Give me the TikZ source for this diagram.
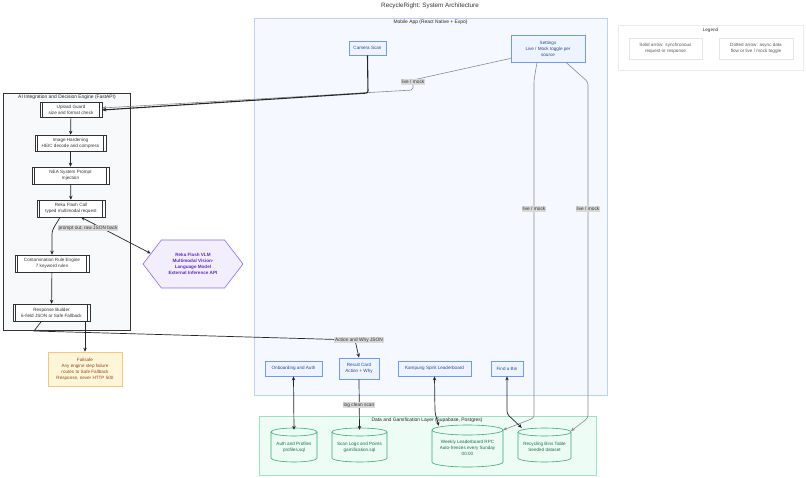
\documentclass[tikz,border=0pt]{standalone}
\usepackage{fontspec}
\setmainfont{Liberation Sans}
\usetikzlibrary{arrows.meta,shapes.symbols,calc}
\definecolor{mobfill}{HTML}{F5F9FF}
\definecolor{mobdraw}{HTML}{BCD3F5}
\definecolor{bnfill}{HTML}{EEF4FF}
\definecolor{bndraw}{HTML}{6E9BEE}
\definecolor{bntext}{HTML}{2A4A8A}
\definecolor{aifill}{HTML}{F8F9FB}
\definecolor{aidraw}{HTML}{333333}
\definecolor{dafill}{HTML}{EEFCF6}
\definecolor{dadraw}{HTML}{9EE0C3}
\definecolor{cyfill}{HTML}{ECFBF3}
\definecolor{cydraw}{HTML}{3AA876}
\definecolor{cytext}{HTML}{1E6E4E}
\definecolor{fsfill}{HTML}{FFF6DA}
\definecolor{fsdraw}{HTML}{F5C77A}
\definecolor{fstext}{HTML}{8A4A1A}
\definecolor{vlfill}{HTML}{F2EEFE}
\definecolor{vldraw}{HTML}{8B6FE0}
\definecolor{vltext}{HTML}{5B2FC0}
\definecolor{lblfill}{HTML}{D9D9D9}
\definecolor{asyncc}{HTML}{8A8A8A}
\tikzset{
  every node/.style={font=\fontsize{4.6}{5.9}\selectfont, align=center, inner sep=0pt},
  cluster/.style={draw, line width=0.5pt},
  clusterlabel/.style={text=black!85, font=\fontsize{4.9}{6}\selectfont},
  mobnode/.style={draw=bndraw, fill=bnfill, text=bntext, line width=0.8pt},
  procnode/.style={draw=aidraw, fill=white, text=aidraw, line width=0.5pt,
    path picture={\draw[aidraw,line width=0.4pt]
      ([xshift=2.5pt]path picture bounding box.north west) -- ([xshift=2.5pt]path picture bounding box.south west)
      ([xshift=-2.5pt]path picture bounding box.north east) -- ([xshift=-2.5pt]path picture bounding box.south east);}},
  cylbody/.style={draw=cydraw, fill=cyfill, line width=0.6pt},
  cyltext/.style={text=cytext},
  edgelabel/.style={fill=lblfill, text=black!80, font=\fontsize{4.8}{5.6}\selectfont, inner sep=0.8pt},
  sync/.style={draw=black!85, line width=0.7pt, -{Stealth[length=4pt,width=3.5pt]}},
  syncboth/.style={draw=black!85, line width=0.7pt, {Stealth[length=4pt,width=3.5pt]}-{Stealth[length=4pt,width=3.5pt]}},
  async/.style={draw=asyncc, line width=0.6pt, -{Stealth[length=4pt,width=3.5pt]}},
  legbox/.style={draw=black!10, fill=white, line width=0.5pt, text=black!65},
}
\newcommand\mycyl[7]{%
  \draw[cylbody] ({#2-#4/2},{#3-#5/2+#6}) -- ({#2-#4/2},{#3+#5/2-#6})
    arc[start angle=180,end angle=360,x radius=#4/2*1pt,y radius=#6*1pt]
    -- ({#2+#4/2},{#3-#5/2+#6})
    arc[start angle=0,end angle=180,x radius=#4/2*1pt,y radius=#6*1pt] -- cycle;
  \draw[cylbody,fill=none] ({#2-#4/2},{#3-#5/2+#6})
    arc[start angle=180,end angle=360,x radius=#4/2*1pt,y radius=#6*1pt];
  \node[cyltext, minimum width=#4pt, minimum height=#5pt] (#1) at (#2,{#3+2}) {#7};%
}
\begin{document}
\begin{tikzpicture}[x=1pt,y=-1pt]
\useasboundingbox[fill=white] (0,0) rectangle (806,478);

% title
\node[font=\fontsize{6.3}{7.5}\selectfont, text=black!80] (title) at (430,6) {RecycleRight: System Architecture};

% clusters
\draw[cluster, draw=mobdraw, fill=mobfill] (254,18) rectangle (607,395);
\node[clusterlabel] (moblbl) at (430.5,22.5) {Mobile App (React Native + Expo)};
\draw[cluster, draw=aidraw, fill=aifill, line width=0.7pt] (3,93) rectangle (130,330);
\node[clusterlabel] (ailbl) at (67,97) {AI Integration and Decision Engine (FastAPI)};
\draw[cluster, draw=dadraw, fill=dafill] (259,416) rectangle (596,475);
\node[clusterlabel] (dalbl) at (427,420.5) {Data and Gamification Layer (Supabase, Postgres)};

% legend
\draw[cluster, draw=black!8, fill=white] (618,25) rectangle (803,70);
\node[text=black!80] (leglbl) at (710.5,30) {Legend};
\node[legbox, minimum width=73pt, minimum height=21pt] (legsolid) at (665.5,48.5) {Solid arrow: synchronous\\request or response};
\node[legbox, minimum width=74pt, minimum height=21pt] (legdot) at (756,48.5) {Dotted arrow: async data\\flow or live / mock toggle};

% mobile nodes
\node[mobnode, minimum width=37pt, minimum height=14pt] (camera) at (367.5,48) {Camera Scan};
\node[mobnode, minimum width=74pt, minimum height=27pt] (settings) at (548,48.5) {Settings\\Live / Mock toggle per\\source};
\node[mobnode, minimum width=57pt, minimum height=15pt] (onboard) at (293.5,368.5) {Onboarding and Auth};
\node[mobnode, minimum width=40pt, minimum height=21pt] (result) at (359,368.5) {Result Card\\Action + Why};
\node[mobnode, minimum width=73pt, minimum height=15pt] (kampung) at (434.5,368.5) {Kampung Spirit Leaderboard};
\node[mobnode, minimum width=32pt, minimum height=15pt] (findbin) at (507,368.5) {Find a Bin};

% AI nodes
\node[procnode, minimum width=62pt, minimum height=15pt] (upload) at (71,109.5) {Upload Guard\\size and format check};
\node[procnode, minimum width=71pt, minimum height=16pt] (harden) at (70.5,143) {Image Hardening\\HEIC decode and compress};
\node[procnode, minimum width=77pt, minimum height=17pt] (nea) at (70.5,175.5) {NEA System Prompt\\Injection};
\node[procnode, minimum width=68pt, minimum height=17pt] (reka) at (71,208.5) {Reka Flash Call\\typed multimodal request};
\node[procnode, minimum width=74pt, minimum height=17pt] (contam) at (52,263.5) {Contamination Rule Engine\\7 keyword rules};
\node[procnode, minimum width=77pt, minimum height=17pt] (builder) at (51.5,312.5) {Response Builder\\6-field JSON or Safe Fallback};

% VLM hexagon
\node[signal, signal to=west and east, signal pointer angle=105, draw=vldraw, fill=vlfill, line width=0.6pt,
  text=vltext, font=\bfseries\fontsize{4.6}{5.9}\selectfont, minimum width=100pt, minimum height=48pt, inner xsep=4pt] (vlm) at (193,264)
  {Reka Flash VLM\\Multimodal Vision-\\Language Model\\External Inference API};

% failsafe
\node[draw=fsdraw, fill=fsfill, text=fstext, line width=0.6pt, minimum width=74pt, minimum height=34pt] (failsafe) at (85,369)
  {Failsafe\\Any engine step failure\\routes to Safe Fallback\\Response, never HTTP 500};

% cylinders
\mycyl{auth}{294}{445}{46}{34}{4}{Auth and Profiles\\profiles.sql}
\mycyl{scanlogs}{359.5}{445}{55}{34}{4}{Scan Logs and Points\\gamification.sql}
\mycyl{weekly}{467.5}{446}{71}{42}{5}{Weekly Leaderboard RPC\\Auto-freezes every Sunday\\00:00}
\mycyl{bins}{544.5}{445}{53}{34}{4}{Recycling Bins Table\\Seeded dataset}

% edges: live / mock toggles
\draw[async, rounded corners=2pt] ([yshift=4pt]settings.south west) -- (413,80) -- (413,90) -- ([yshift=1.5pt]upload.east);
\node[edgelabel] (lm1) at (413,82) {live / mock};
\draw[async, rounded corners=3pt] ([xshift=-11pt]settings.south) -- (534,80) -- (534,418) -- (503,430);
\node[edgelabel] (lm2) at (534,209) {live / mock};
\draw[async, rounded corners=3pt] ([xshift=18pt]settings.south) -- (588,82) -- (588,418) -- (571,431);
\node[edgelabel] (lm3) at (588,209) {live / mock};

% camera -> upload
\draw[sync, line width=1.1pt, rounded corners=2pt] (camera.south) -- (368,93) -- ([yshift=-0.5pt]upload.east);

% pipeline
\draw[sync] (upload) -- (harden);
\draw[sync] (harden) -- (nea);
\draw[sync] (nea) -- (reka);
\draw[sync] ([xshift=-11pt]reka.south) to[out=-115,in=90] (52,235) -- (contam.north);
\draw[sync] (contam) -- (builder);
\draw[syncboth] ([xshift=10pt]reka.south) -- (vlm.166);
\node[edgelabel] (lbl1) at (88,228) {prompt out, raw JSON back};
\draw[sync] (builder.south -| failsafe.north) -- (failsafe.north);
\draw[sync] ([xshift=-10pt]builder.south) -- (34,331) -- (355,340) -- (result.north);
\node[edgelabel] (lbl2) at (359,340) {Action and Why JSON};

% mobile <-> data
\draw[sync] (result.south) -- (scanlogs.north);
\node[edgelabel] (lbl3) at (359,405) {log clean scan};
\draw[syncboth] (onboard.south) -- (auth.north);
\draw[syncboth, rounded corners=3pt] (kampung.south) -- (435,413) -- ([xshift=7pt,yshift=1pt]weekly.north west);
\draw[syncboth, rounded corners=3pt] (findbin.south) -- (507,414) -- ([xshift=4pt,yshift=2pt]bins.north west);
\end{tikzpicture}
\end{document}
